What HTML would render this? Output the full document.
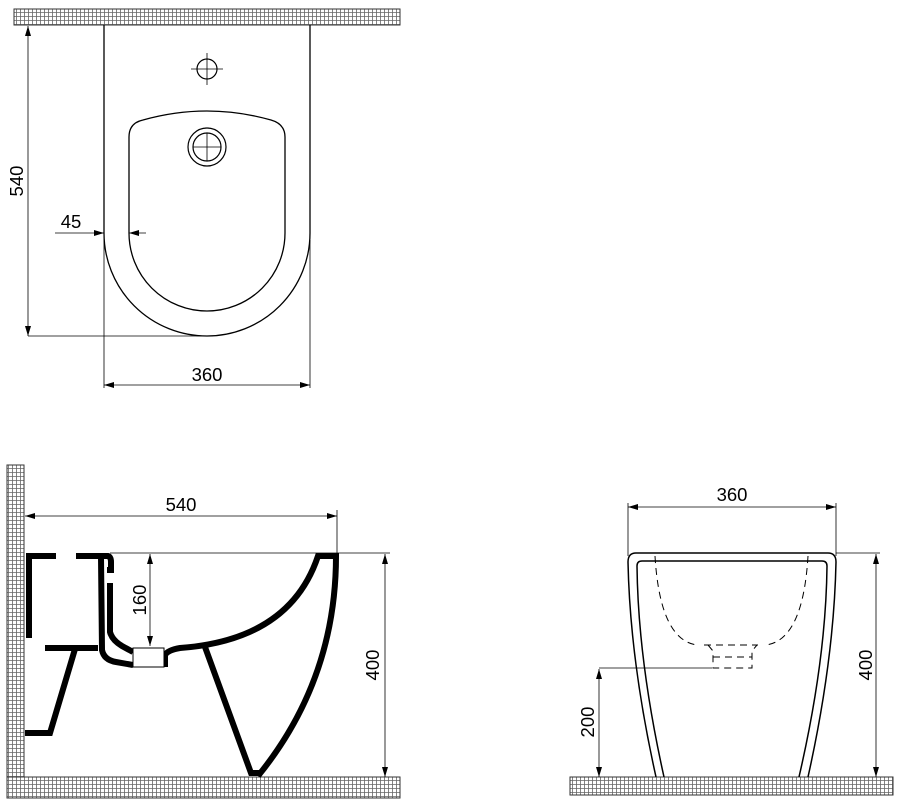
<!DOCTYPE html>
<html><head><meta charset="utf-8"><style>
html,body{margin:0;padding:0;background:#fff;}
svg{display:block;}
text{font-family:"Liberation Sans",sans-serif;font-size:18.5px;fill:#000;}
</style></head><body>
<svg width="905" height="807" viewBox="0 0 905 807" xmlns="http://www.w3.org/2000/svg">
<defs>
<pattern id="g" width="4" height="4" patternUnits="userSpaceOnUse">
<rect width="4" height="4" fill="#fff"/>
<path d="M0 0.5H4M0.5 0V4" stroke="#666" stroke-width="0.8"/>
</pattern>
<marker id="a" viewBox="0 0 10 6" refX="10" refY="3" markerWidth="10" markerHeight="6" orient="auto-start-reverse" markerUnits="userSpaceOnUse">
<path d="M0 0L10 3L0 6z" fill="#000"/>
</marker>
</defs>

<!-- TOP VIEW -->
<rect x="14" y="9" width="386" height="16" fill="url(#g)" stroke="#333" stroke-width="1"/>
<path d="M104 25V233A103 103 0 0 0 310 233V25" fill="none" stroke="#000" stroke-width="1.3"/>
<path d="M129 233V137Q129 123 143 120Q207 102 271 120Q285 124 285 137V233A78 78 0 0 1 129 233Z" fill="none" stroke="#000" stroke-width="1.3"/>
<circle cx="207" cy="69" r="10" fill="none" stroke="#000" stroke-width="1.2"/>
<path d="M191 69H223M207 53V85" stroke="#000" stroke-width="0.8"/>
<circle cx="207" cy="147" r="19" fill="none" stroke="#000" stroke-width="1.2"/>
<circle cx="207" cy="147" r="14" fill="none" stroke="#000" stroke-width="1.2"/>
<path d="M193 147H221M207 133V161" stroke="#000" stroke-width="0.8"/>
<line x1="28" y1="26" x2="28" y2="336" stroke="#000" stroke-width="0.8" marker-start="url(#a)" marker-end="url(#a)"/>
<line x1="28" y1="336" x2="207" y2="336" stroke="#000" stroke-width="0.8"/>
<text transform="translate(23,181) rotate(-90)" text-anchor="middle">540</text>
<line x1="55" y1="233" x2="104" y2="233" stroke="#000" stroke-width="0.8" marker-end="url(#a)"/>
<line x1="146" y1="233" x2="129" y2="233" stroke="#000" stroke-width="0.8" marker-end="url(#a)"/>
<text x="71" y="228" text-anchor="middle">45</text>
<line x1="104" y1="233" x2="104" y2="388" stroke="#000" stroke-width="0.8"/>
<line x1="310" y1="240" x2="310" y2="388" stroke="#000" stroke-width="0.8"/>
<line x1="104" y1="385" x2="310" y2="385" stroke="#000" stroke-width="0.8" marker-start="url(#a)" marker-end="url(#a)"/>
<text x="207" y="381" text-anchor="middle">360</text>

<!-- SIDE VIEW -->
<rect x="7" y="465" width="17" height="313" fill="url(#g)" stroke="#333" stroke-width="1"/>
<rect x="7" y="777" width="393" height="21" fill="url(#g)" stroke="#333" stroke-width="1"/>
<line x1="25" y1="516" x2="337" y2="516" stroke="#000" stroke-width="0.8" marker-start="url(#a)" marker-end="url(#a)"/>
<line x1="337" y1="510" x2="337" y2="556" stroke="#000" stroke-width="0.8"/>
<text x="181" y="511" text-anchor="middle">540</text>
<line x1="110" y1="553" x2="390" y2="553" stroke="#000" stroke-width="0.8"/>
<line x1="385" y1="554" x2="385" y2="777" stroke="#000" stroke-width="0.8" marker-start="url(#a)" marker-end="url(#a)"/>
<text transform="translate(379,665) rotate(-90)" text-anchor="middle">400</text>
<line x1="150" y1="554" x2="150" y2="646" stroke="#000" stroke-width="0.8" marker-start="url(#a)" marker-end="url(#a)"/>
<text transform="translate(146,600) rotate(-90)" text-anchor="middle">160</text>
<g fill="none" stroke="#000" stroke-width="6" stroke-linejoin="miter">
<path d="M56 556H29V638"/>
<path d="M76 556H108Q111 557 111 562V570H107"/>
<path d="M110 583V632Q112 640 122 646L133 652"/>
<path d="M101 557L102 650Q104 660 116 662L133 665"/>
<path d="M45 648H98"/>
<path d="M75 649L50 733H25"/>
<path d="M165 667V655Q168 650 180 648Q290 640 318 556H336Q336 680 258 776"/>
<path d="M205 647L251 773H262"/>
</g>
<rect x="133" y="648" width="31" height="19" fill="#fff" stroke="#000" stroke-width="1"/>

<!-- FRONT VIEW -->
<rect x="570" y="777" width="323" height="18" fill="url(#g)" stroke="#333" stroke-width="1"/>
<line x1="628" y1="507" x2="836" y2="507" stroke="#000" stroke-width="0.8" marker-start="url(#a)" marker-end="url(#a)"/>
<line x1="628" y1="503" x2="628" y2="556" stroke="#000" stroke-width="0.8"/>
<line x1="836" y1="503" x2="836" y2="556" stroke="#000" stroke-width="0.8"/>
<text x="732" y="501" text-anchor="middle">360</text>
<line x1="836" y1="553" x2="880" y2="553" stroke="#000" stroke-width="0.8"/>
<line x1="876" y1="554" x2="876" y2="777" stroke="#000" stroke-width="0.8" marker-start="url(#a)" marker-end="url(#a)"/>
<text transform="translate(872,665) rotate(-90)" text-anchor="middle">400</text>
<line x1="599" y1="668" x2="712" y2="668" stroke="#000" stroke-width="0.8"/>
<line x1="599" y1="669" x2="599" y2="777" stroke="#000" stroke-width="0.8" marker-start="url(#a)" marker-end="url(#a)"/>
<text transform="translate(594,722) rotate(-90)" text-anchor="middle">200</text>
<g fill="none" stroke="#000" stroke-width="1.5">
<path d="M656 777Q630 660 628 562Q628 553 636 553H828Q836 553 836 562Q834 660 808 777"/>
<path d="M664 777Q638 660 637 566Q637 561 642 561H822Q827 561 827 566Q826 660 799 777"/>
</g>
<g fill="none" stroke="#000" stroke-width="1" stroke-dasharray="7,5">
<path d="M655 556Q660 640 697 645"/>
<path d="M808 556Q803 640 766 645"/>
<path d="M704 645H758"/>
<path d="M708 645L713 651V668H752V651L757 645"/>
<path d="M713 657H752"/>
</g>
</svg>
</body></html>
